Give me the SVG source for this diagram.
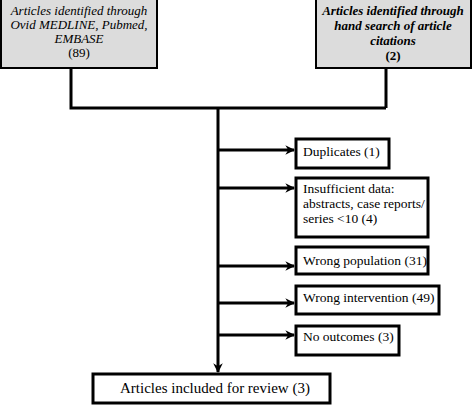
<svg xmlns="http://www.w3.org/2000/svg" width="473" height="405" viewBox="0 0 473 405">
<style>
.src{fill:#dcdcdc;stroke:#000;stroke-width:2}
.box{fill:#fff;stroke:#000;stroke-width:3}
.ln{fill:none;stroke:#000;stroke-width:3}
text{font-family:'Liberation Serif','Times New Roman',serif;fill:#000}
.it{font-style:italic;font-size:13px;text-anchor:middle}
.bi{font-style:italic;font-weight:bold;font-size:13px;text-anchor:middle}
.t{font-size:13.5px}
</style>
<defs>
<marker id="ah" viewBox="0 0 10 10" refX="9" refY="5" markerWidth="3.2" markerHeight="3.2" orient="auto" markerUnits="strokeWidth">
<path d="M0,0 L10,5 L0,10 L3,5 z" fill="#000"/>
</marker>
</defs>
<g id="connectors">
<polyline class="ln" points="71,68 71,108 386,108"/>
<line class="ln" x1="386" y1="68" x2="386" y2="108"/>
<line class="ln" x1="218" y1="107" x2="218" y2="372" marker-end="url(#ah)"/>
<line class="ln" x1="218" y1="150" x2="294" y2="150" marker-end="url(#ah)"/>
<line class="ln" x1="218" y1="188" x2="294" y2="188" marker-end="url(#ah)"/>
<line class="ln" x1="218" y1="266" x2="294" y2="266" marker-end="url(#ah)"/>
<line class="ln" x1="218" y1="303" x2="294" y2="303" marker-end="url(#ah)"/>
<line class="ln" x1="218" y1="335" x2="294" y2="335" marker-end="url(#ah)"/>
</g>
<g id="src1">
<rect class="src" x="1" y="-2" width="156" height="70"/>
<text class="it" x="79" y="15">Articles identified through</text>
<text class="it" x="79" y="29">Ovid MEDLINE, Pubmed,</text>
<text class="it" x="79" y="43">EMBASE</text>
<text x="79" y="57" font-size="13" text-anchor="middle">(89)</text>
</g>
<g id="src2">
<rect class="src" x="316" y="-2" width="155" height="70"/>
<text class="bi" x="393" y="15">Articles identified through</text>
<text class="bi" x="393" y="30">hand search of article</text>
<text class="bi" x="393" y="45">citations</text>
<text x="393" y="60" font-size="13" text-anchor="middle" font-weight="bold">(2)</text>
</g>
<g id="dup">
<rect class="box" x="296" y="139" width="93" height="29"/>
<text class="t" x="303" y="156">Duplicates (1)</text>
</g>
<g id="insuf">
<rect class="box" x="296" y="178" width="132" height="59"/>
<text class="t" x="303" y="193">Insufficient data:</text>
<text class="t" x="303" y="208">abstracts, case reports/</text>
<text class="t" x="303" y="223">series &lt;10 (4)</text>
</g>
<g id="pop">
<rect class="box" x="296" y="247" width="132" height="27"/>
<text class="t" x="303" y="265">Wrong population (31)</text>
</g>
<g id="int">
<rect class="box" x="296" y="286" width="143" height="28"/>
<text class="t" x="303" y="302">Wrong intervention (49)</text>
</g>
<g id="out">
<rect class="box" x="296" y="326" width="103" height="29"/>
<text class="t" x="303" y="341">No outcomes (3)</text>
</g>
<g id="incl">
<rect class="box" x="93" y="374" width="237" height="29"/>
<text x="120" y="393" font-size="15">Articles included for review (3)</text>
</g>
</svg>
